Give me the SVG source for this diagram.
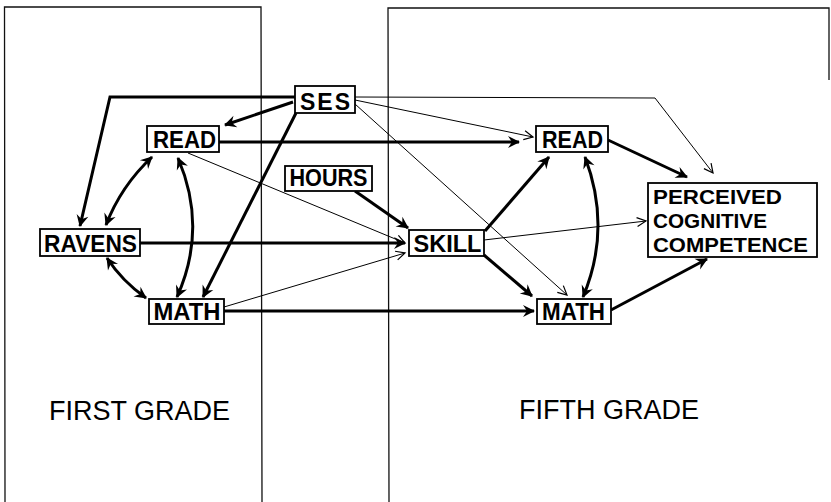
<svg xmlns="http://www.w3.org/2000/svg" width="831" height="502" viewBox="0 0 831 502">
<defs>
<marker id="ah" viewBox="-13 -7 15 14" refX="0" refY="0" markerWidth="15" markerHeight="14" markerUnits="userSpaceOnUse" orient="auto-start-reverse">
<path d="M-11,-6 L1,0 L-11,6 L-7,0 z" fill="#000"/>
</marker>
<marker id="at" viewBox="-11 -6 13 12" refX="0" refY="0" markerWidth="13" markerHeight="12" markerUnits="userSpaceOnUse" orient="auto-start-reverse">
<path d="M-9,-4.5 L0,0 L-9,4.5" fill="none" stroke="#000" stroke-width="1.2"/>
</marker>
<style>
.panel{fill:none;stroke:#111;stroke-width:1.3}
.box{fill:#fff;stroke:#000;stroke-width:1.8}
.lbl{font-family:"Liberation Sans",Arial,sans-serif;font-weight:bold;font-size:23px;fill:#000;text-anchor:middle}
.lbl2{font-family:"Liberation Sans",Arial,sans-serif;font-weight:bold;font-size:20.5px;fill:#000}
.grade{font-family:"Liberation Sans",Arial,sans-serif;font-size:27px;fill:#000}
.thick{fill:none;stroke:#000;stroke-width:3;marker-end:url(#ah)}
.dbl{fill:none;stroke:#000;stroke-width:3;marker-end:url(#ah);marker-start:url(#ah)}
.thin{fill:none;stroke:#000;stroke-width:1;marker-end:url(#at)}
</style>
</defs>
<rect width="831" height="502" fill="#fff"/>
<g id="panels">
<polyline class="panel" points="5,502 4.5,7 261,7 262,502"/>
<polyline class="panel" points="389,502 388,8 829,8 829,80"/>
</g>
<g id="connectors">
<polyline class="thick" points="295,97 110,97 80,226"/>
<line class="thick" x1="293" y1="102" x2="225" y2="125"/>
<line class="thick" x1="296" y1="113" x2="203" y2="297"/>
<line class="thin" x1="355" y1="100" x2="533" y2="137"/>
<polyline class="thin" points="355,97 655,98 713,173"/>
<line class="thin" x1="355" y1="104" x2="567" y2="295"/>
<line class="thick" x1="219" y1="142" x2="519" y2="142"/>
<line class="thin" x1="188" y1="153" x2="405" y2="243"/>
<line class="thick" x1="355" y1="191" x2="408" y2="228"/>
<line class="thick" x1="140" y1="243" x2="405" y2="243"/>
<line class="thin" x1="224" y1="307" x2="405" y2="253"/>
<line class="thick" x1="224" y1="311" x2="534" y2="311"/>
<path class="dbl" d="M106,225 Q121,186 152,157"/>
<path class="dbl" d="M178,158 Q208,228 177,297"/>
<path class="dbl" d="M107,258 Q122,281 146,298"/>
<line class="thick" x1="485" y1="231" x2="549" y2="157"/>
<line class="thin" x1="484" y1="240" x2="646" y2="221"/>
<line class="thick" x1="484" y1="255" x2="532" y2="296"/>
<path class="dbl" d="M585,157 Q612,228 583,297"/>
<line class="thick" x1="608" y1="140" x2="687" y2="177"/>
<line class="thick" x1="611" y1="310" x2="707" y2="259"/>
</g>
<g id="ses"><rect class="box" x="295" y="86" width="60" height="27"/><text class="lbl" x="325" y="110" textLength="50" lengthAdjust="spacing">SES</text></g>
<g id="read1"><rect class="box" x="147" y="126" width="72" height="26"/><text class="lbl" x="184.5" y="148" textLength="63" lengthAdjust="spacingAndGlyphs">READ</text></g>
<g id="hours"><rect class="box" x="285" y="166" width="87" height="25"/><text class="lbl" x="328.5" y="186" textLength="78" lengthAdjust="spacingAndGlyphs">HOURS</text></g>
<g id="ravens"><rect class="box" x="40" y="229" width="100" height="27"/><text class="lbl" x="90.5" y="252" textLength="93" lengthAdjust="spacingAndGlyphs">RAVENS</text></g>
<g id="math1"><rect class="box" x="149" y="299" width="75" height="25"/><text class="lbl" x="187" y="320" textLength="67" lengthAdjust="spacingAndGlyphs">MATH</text></g>
<g id="skill"><rect class="box" x="409" y="230" width="75" height="26"/><text class="lbl" x="447.5" y="252" textLength="68" lengthAdjust="spacingAndGlyphs">SKILL</text></g>
<g id="read5"><rect class="box" x="536" y="126" width="72" height="26"/><text class="lbl" x="572.5" y="148" textLength="61" lengthAdjust="spacingAndGlyphs">READ</text></g>
<g id="math5"><rect class="box" x="537" y="299" width="74" height="25"/><text class="lbl" x="573.5" y="320" textLength="63" lengthAdjust="spacingAndGlyphs">MATH</text></g>
<g id="pcc"><rect class="box" x="648" y="183" width="169" height="74"/>
<text class="lbl2" x="653" y="204" textLength="129" lengthAdjust="spacingAndGlyphs">PERCEIVED</text>
<text class="lbl2" x="653" y="228" textLength="114" lengthAdjust="spacingAndGlyphs">COGNITIVE</text>
<text class="lbl2" x="653" y="252" textLength="155" lengthAdjust="spacingAndGlyphs">COMPETENCE</text></g>
<text class="grade" x="49" y="420" textLength="181" lengthAdjust="spacingAndGlyphs">FIRST GRADE</text>
<text class="grade" x="519" y="419" textLength="180" lengthAdjust="spacingAndGlyphs">FIFTH GRADE</text>
</svg>
